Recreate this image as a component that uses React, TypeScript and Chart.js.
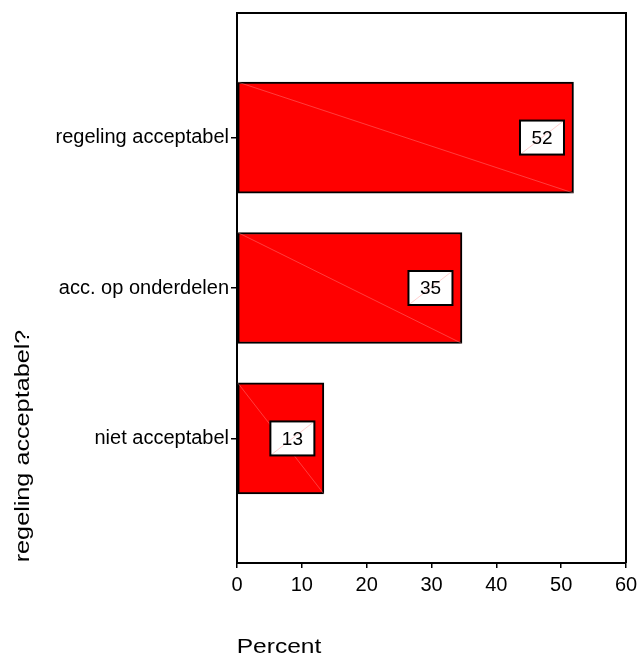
import React, { useEffect, useRef } from "react";
import { Chart, registerables } from "chart.js";

Chart.register(...registerables);

const categories = ["regeling acceptabel", "acc. op onderdelen", "niet acceptabel"];
const percentValues = [51.9, 34.7, 13.4];
const valueLabels = ["52", "35", "13"];
const xTicks = [0, 10, 20, 30, 40, 50, 60];
const xTitle = "Percent";
const yTitle = "regeling acceptabel?";

const FONT = "'Liberation Sans', Arial, Helvetica, sans-serif";

const framePlugin = {
  id: "frame",
  afterDatasetsDraw(chart: any) {
    const { ctx, chartArea } = chart;
    const meta = chart.getDatasetMeta(0);
    ctx.save();
    meta.data.forEach((el: any) => {
      const p = el.getProps(["x", "y", "base", "height"], true);
      const top = p.y - p.height / 2;
      const bottom = p.y + p.height / 2;
      ctx.strokeStyle = "rgba(255,170,170,0.6)";
      ctx.lineWidth = 0.6;
      ctx.beginPath();
      ctx.moveTo(p.base, top);
      ctx.lineTo(p.x, bottom);
      ctx.stroke();
    });
    meta.data.forEach((el: any, i: number) => {
      const p = el.getProps(["x", "y"], true);
      const w = 44;
      const h = 34;
      const right = p.x - 9.5;
      const left = right - w;
      const top = p.y - h / 2;
      ctx.fillStyle = "#fff";
      ctx.fillRect(left, top, w, h);
      ctx.strokeStyle = "rgba(255,140,140,0.7)";
      ctx.lineWidth = 0.6;
      ctx.beginPath();
      ctx.moveTo(left, top + h);
      ctx.lineTo(right, top);
      ctx.stroke();
      ctx.strokeStyle = "#000";
      ctx.lineWidth = 2;
      ctx.strokeRect(left, top, w, h);
      ctx.fillStyle = "#000";
      ctx.font = `19px ${FONT}`;
      ctx.textAlign = "center";
      ctx.textBaseline = "middle";
      ctx.fillText(valueLabels[i], left + w / 2, p.y + 1);
    });
    ctx.strokeStyle = "#000";
    ctx.lineWidth = 2;
    ctx.beginPath();
    ctx.moveTo(chartArea.left, chartArea.top);
    ctx.lineTo(chartArea.right, chartArea.top);
    ctx.lineTo(chartArea.right, chartArea.bottom);
    ctx.stroke();
    ctx.restore();
  },
  afterDraw(chart: any) {
    const { ctx } = chart;
    ctx.save();
    ctx.fillStyle = "#000";
    ctx.font = `21px ${FONT}`;
    ctx.save();
    ctx.translate(279, 653);
    ctx.scale(1.17, 1);
    ctx.textAlign = "center";
    ctx.textBaseline = "alphabetic";
    ctx.fillText(xTitle, 0, 0);
    ctx.restore();
    ctx.save();
    ctx.translate(29, 446);
    ctx.rotate(-Math.PI / 2);
    ctx.scale(1.2, 1);
    ctx.textAlign = "center";
    ctx.textBaseline = "alphabetic";
    ctx.fillText(yTitle, 0, 0);
    ctx.restore();
    ctx.restore();
  },
};

export default function App() {
  const ref = useRef<HTMLCanvasElement | null>(null);
  useEffect(() => {
    if (!ref.current) return;
    const chart = new Chart(ref.current, {
      type: "bar",
      data: {
        datasets: [
          {
            data: percentValues.map((v, i) => ({ x: v, y: i })) as any,
            backgroundColor: "#ff0000",
            borderColor: "#000",
            borderWidth: 2,
            borderSkipped: false,
            barThickness: 111,
          },
        ],
      },
      options: {
        indexAxis: "y",
        responsive: false,
        animation: false,
        events: [],
        layout: { padding: { top: 13, right: 13, left: 0, bottom: 0 } },
        plugins: { legend: { display: false }, tooltip: { enabled: false }, title: { display: false } },
        scales: {
          x: {
            type: "linear",
            min: xTicks[0],
            max: xTicks[xTicks.length - 1],
            afterBuildTicks: (scale: any) => {
              scale.ticks = xTicks.map((v) => ({ value: v }));
            },
            afterFit: (scale: any) => {
              scale.height = 93;
              scale.paddingLeft = 0;
              scale.paddingRight = 0;
            },
            grid: { display: true, drawOnChartArea: false, drawTicks: true, tickLength: 5, color: "#000", lineWidth: 1.5 },
            border: { display: true, color: "#000", width: 2 },
            ticks: { color: "#000", font: { family: FONT, size: 20 }, padding: 5, maxRotation: 0 },
          },
          y: {
            type: "linear",
            min: -0.828,
            max: 2.828,
            reverse: true,
            offset: false,
            afterBuildTicks: (scale: any) => {
              scale.ticks = categories.map((_, i) => ({ value: i }));
            },
            afterFit: (scale: any) => {
              scale.width = 237;
              scale.paddingTop = 0;
              scale.paddingBottom = 0;
            },
            grid: { display: true, offset: false, drawOnChartArea: false, drawTicks: true, tickLength: 6, color: "#000", lineWidth: 1.5 },
            border: { display: true, color: "#000", width: 2 },
            ticks: {
              color: "#000",
              font: { family: FONT, size: 20 },
              padding: 2,
              callback: (v: any) => categories[Number(v)] ?? "",
            },
          },
        },
      } as any,
      plugins: [framePlugin],
    });
    return () => chart.destroy();
  }, []);
  return (
    <div style={{ position: "absolute", left: 0, top: 0, width: 639, height: 656, background: "#fff" }}>
      <canvas ref={ref} width={639} height={656} style={{ width: 639, height: 656, display: "block" }} />
    </div>
  );
}
